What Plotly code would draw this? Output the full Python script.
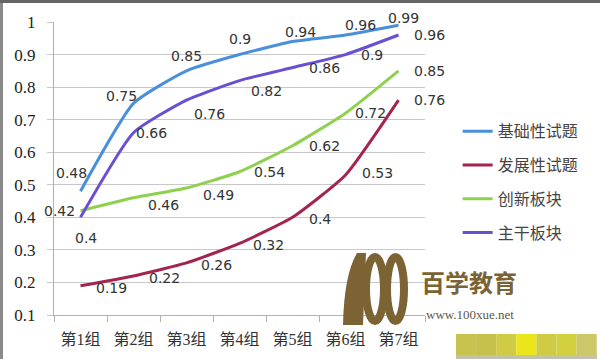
import plotly.graph_objects as go

categories = ["第1组", "第2组", "第3组", "第4组", "第5组", "第6组", "第7组"]
series_names = ["基础性试题", "发展性试题", "创新板块", "主干板块"]
basic = [0.48, 0.75, 0.85, 0.9, 0.94, 0.96, 0.99]
develop = [0.19, 0.22, 0.26, 0.32, 0.4, 0.53, 0.76]
innov = [0.42, 0.46, 0.49, 0.54, 0.62, 0.72, 0.85]
main = [0.4, 0.66, 0.76, 0.82, 0.86, 0.9, 0.96]
y_ticks = [0.1, 0.2, 0.3, 0.4, 0.5, 0.6, 0.7, 0.8, 0.9, 1]
y_ticktext = ["0.1", "0.2", "0.3", "0.4", "0.5", "0.6", "0.7", "0.8", "0.9", "1"]

colors = ["#4a8fdb", "#a3244d", "#8fd14f", "#6b4fd3"]
data = [basic, develop, innov, main]

# label offsets (pixels) per series/point
offsets = [
    [(-9, 18), (-12, 7), (0, 15), (0, 16), (8, 10), (15, 10), (5, 7)],
    [(31, -2), (31, -2), (30, -2), (29, -2), (27, -2), (32, 2), (31, 0)],
    [(-21, 0), (30, -7), (32, -7), (30, 0), (32, 0), (25, 0), (31, 0)],
    [(5, -21), (18, 0), (23, -14), (27, -10), (32, 0), (26, 0), (31, 0)],
]

# plot-area geometry (pixels) used for placing decorations
L, R, T, B = 54, 425, 22, 315
def px(x):
    return (x - L) / (R - L)
def py(y):
    return (B - y) / (B - T)

fig = go.Figure()
for name, vals, col in zip(series_names, data, colors):
    fig.add_trace(go.Scatter(
        x=categories, y=vals, name=name, mode="lines",
        line=dict(color=col, width=3, shape="spline", smoothing=0.5),
        legendgroup=name,
    ))

annotations = []
for vals, offs in zip(data, offsets):
    for c, v, (dx, dy) in zip(categories, vals, offs):
        annotations.append(dict(
            x=c, y=v, text=f"{v:g}", showarrow=False, xshift=dx, yshift=dy,
            font=dict(family="DejaVu Sans, Arial, sans-serif", size=14, color="#333333"),
        ))

wm = "#7b6333"
annotations += [
    dict(xref="paper", yref="paper", x=px(469), y=py(281), xanchor="center", yanchor="middle",
         text="<b>百学教育</b>", showarrow=False,
         font=dict(family="Noto Sans CJK SC", size=24, color=wm)),
    dict(xref="paper", yref="paper", x=px(470), y=py(314), xanchor="center", yanchor="middle",
         text="www.100xue.net", showarrow=False,
         font=dict(family="Liberation Serif", size=13, color="#5f5848")),
]

shapes = []
# frame borders of the screenshot
shapes.append(dict(type="rect", xref="paper", yref="paper", x0=px(0), x1=px(3), y0=py(359), y1=py(0),
                   fillcolor="#8a8a8a", line=dict(width=0), layer="above"))
shapes.append(dict(type="rect", xref="paper", yref="paper", x0=px(0), x1=px(600), y0=py(3), y1=py(0),
                   fillcolor="#666666", line=dict(width=0), layer="above"))
# watermark logo "100"
shapes.append(dict(type="path", xref="paper", yref="paper", layer="above",
                   path=(f"M{px(343)},{py(325)} Q{px(344)},{py(275)} {px(357)},{py(253)} "
                         f"L{px(366)},{py(253)} L{px(363)},{py(325)} Z"),
                   fillcolor=wm, line=dict(width=0)))
for x0, x1 in [(366, 384), (387, 404)]:
    shapes.append(dict(type="circle", xref="paper", yref="paper", layer="above",
                       x0=px(x0), x1=px(x1), y0=py(321), y1=py(257),
                       line=dict(color=wm, width=8)))
# mosaic strip at bottom right
mosaic = ["#c8c350", "#c5bf4c", "#cfcb45", "#ebe61c", "#cfcb45", "#d3d040", "#cbc86a"]
for i, mc in enumerate(mosaic):
    shapes.append(dict(type="rect", xref="paper", yref="paper", layer="above",
                       x0=px(456 + i * 20.1), x1=px(456 + (i + 1) * 20.1),
                       y0=py(355), y1=py(334), fillcolor=mc, line=dict(width=0)))
shapes.append(dict(type="rect", xref="paper", yref="paper", layer="above",
                   x0=px(456), x1=px(597), y0=py(359), y1=py(355),
                   fillcolor="#c4c2a6", line=dict(width=0)))

fig.update_layout(
    width=600, height=359,
    margin=dict(l=L, r=600 - R, t=T, b=359 - B),
    paper_bgcolor="white", plot_bgcolor="white",
    showlegend=True,
    legend=dict(x=1.088, y=0.685, xanchor="left", yanchor="top",
                font=dict(family="Noto Sans CJK SC", size=16, color="#444444"),
                tracegroupgap=10, bgcolor="rgba(0,0,0,0)"),
    xaxis=dict(type="category", showgrid=False, showline=True, linecolor="#b0b0b0", linewidth=1,
               ticks="outside", ticklen=6, tickcolor="#b0b0b0", tickson="boundaries",
               ticklabelstandoff=10,
               tickfont=dict(family="Liberation Serif, Noto Sans CJK SC", size=16, color="#333333"),
               range=[-0.5, 6.5]),
    yaxis=dict(range=[0.1, 1.0], tickvals=y_ticks, ticktext=y_ticktext,
               showgrid=True, gridcolor="#c8c8c8", gridwidth=1,
               showline=True, linecolor="#b0b0b0", linewidth=1,
               ticks="outside", ticklen=6, tickcolor="#c8c8c8",
               ticklabelstandoff=8,
               tickfont=dict(family="Liberation Serif", size=17, color="#222222"),
               zeroline=False),
    annotations=annotations,
    shapes=shapes,
)

fig.write_html("out.html", config={"displayModeBar": False},
               post_script="document.body.style.margin='0';")
